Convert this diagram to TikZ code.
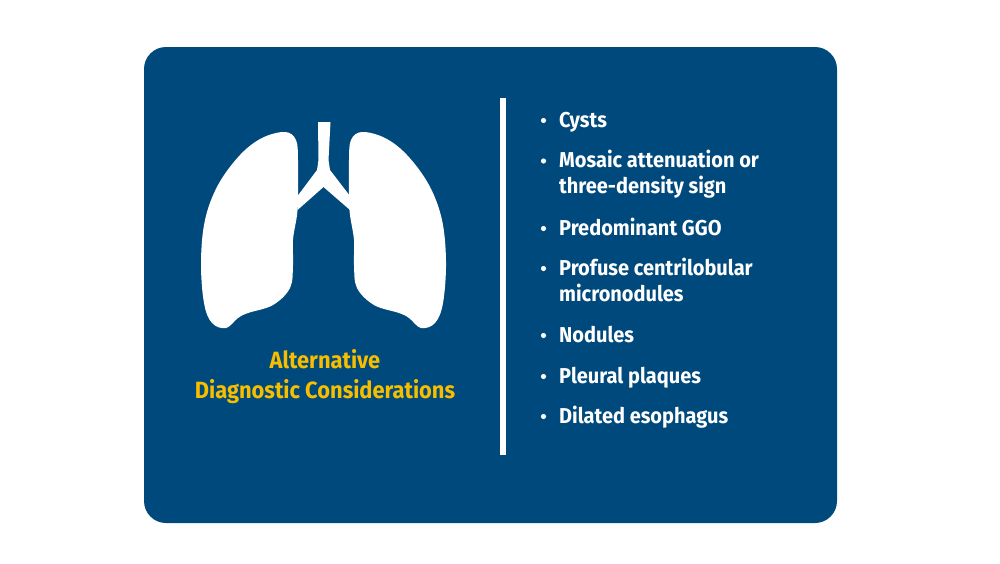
\documentclass[tikz,border=0pt]{standalone}
\usepackage{fontspec}
\setmainfont{Fira Sans}[FakeStretch=0.93]
\definecolor{panelblue}{RGB}{0,73,124}
\definecolor{titleyellow}{RGB}{247,190,0}
\begin{document}
\begin{tikzpicture}[x=1pt,y=-1pt,
    listitem/.style={anchor=base west,inner sep=0pt,align=left,text=white,
      font=\fontsize{21.5}{26}\selectfont\bfseries}]
    % Background and panel
    \useasboundingbox[fill=white] (0,0) rectangle (1000,563);
    \fill[panelblue,rounded corners=22pt] (144,47) rectangle (837,523);
    \draw[white,line width=5.5pt] (503,98) -- (503,455);

    % Lungs
    \fill[white] (318,122) -- (330.5,122) -- (328.5,160) -- (330,170)
      -- (350,196) -- (350,210) -- (323.5,187) -- (297.5,210) -- (297.5,196)
      -- (317,170) -- (318.5,160) -- cycle;
    \foreach \side in {1,-1}
      \fill[white,xshift=323.5pt,xscale=\side,xshift=-323.5pt]
        plot[smooth cycle,tension=0.6] coordinates {
          (285,132) (296,140) (298,160) (298,197) (297,215) (293,240)
          (293,265) (290,288) (273,305) (248,313) (238,318) (226,328)
          (212,323) (204,303) (201,262) (205,220) (218,185) (240,155)
          (262,138)};

    % Title
    \node[anchor=base,align=center,inner sep=0pt,text=titleyellow,
      font=\fontsize{23.5}{30}\selectfont\bfseries] (title) at (325,398)
      {Alternative\\Diagnostic Considerations};

    % List (two-line items sit on their last line)
    \node[listitem] (cysts) at (559,127) {Cysts};
    \node[listitem] (mosaic) at (559,193.5) {Mosaic attenuation or\\three-density sign};
    \node[listitem] (ggo) at (559,235) {Predominant GGO};
    \node[listitem] (profuse) at (559,301.5) {Profuse centrilobular\\micronodules};
    \node[listitem] (nodules) at (559,342) {Nodules};
    \node[listitem] (plaques) at (559,383) {Pleural plaques};
    \node[listitem] (esoph) at (559,423) {Dilated esophagus};
    \foreach \y in {127,167.5,235,275,342,383,423}
      \fill[white] (543.5,\y-6.5) circle (2.6pt);
\end{tikzpicture}
\end{document}
